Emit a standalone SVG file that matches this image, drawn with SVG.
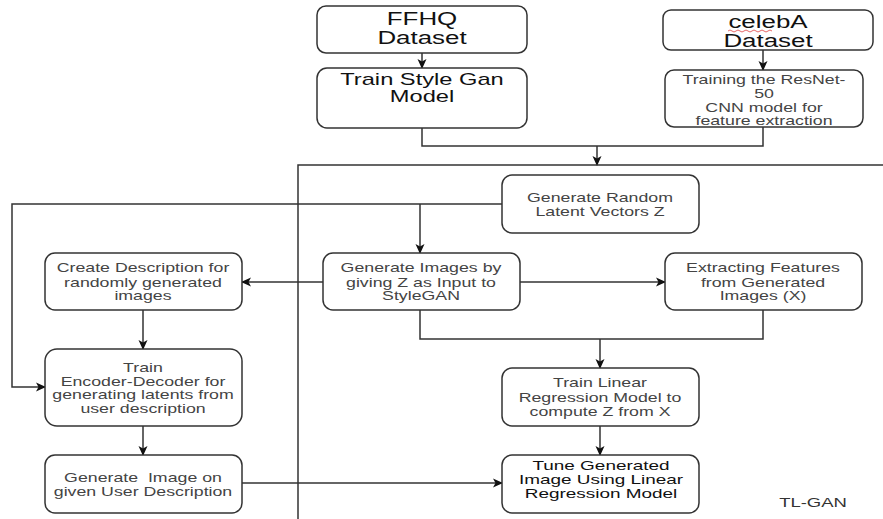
<svg xmlns="http://www.w3.org/2000/svg" width="883" height="519" viewBox="0 0 883 519">
<style>
.box{fill:#fff;stroke:#333;stroke-width:1.5}
.ln{fill:none;stroke:#333;stroke-width:1.5}
.ar{fill:none;stroke:#333;stroke-width:1.5;marker-end:url(#ah)}
text{font-family:"Liberation Sans",Arial,sans-serif;text-anchor:middle;white-space:pre}
.big{font-size:17.5px;fill:#111}
.mid{font-size:16px;fill:#111}
.sm{font-size:12px;fill:#444}
.tn{font-size:12.8px;fill:#111}
</style>
<defs>
<marker id="ah" markerWidth="10" markerHeight="10" refX="9" refY="5" orient="auto" markerUnits="userSpaceOnUse">
<path d="M0,0.5 L10,5 L0,9.5 L2.5,5 z" fill="#111"/>
</marker>
</defs>
<rect width="883" height="519" fill="#fff"/>
<g id="connectors">
<path class="ar" d="M422,53 V68"/>
<path class="ar" d="M763,50 V70"/>
<path class="ln" d="M422,128 V146 H763 V127"/>
<path class="ar" d="M597,146 V165"/>
<path class="ln" d="M298,519 V165 H883"/>
<path class="ar" d="M502,204 H12 V387 H45"/>
<path class="ar" d="M420,204 V253"/>
<path class="ar" d="M323,282 H242"/>
<path class="ar" d="M520,282 H665"/>
<path class="ln" d="M420,310 V339 H763 V310"/>
<path class="ar" d="M600,339 V368"/>
<path class="ar" d="M600,426 V455"/>
<path class="ar" d="M143,310 V349"/>
<path class="ar" d="M143,426 V455"/>
<path class="ar" d="M242,483 H502"/>
</g>
<g id="ffhq">
<rect class="box" x="317" y="6" width="210" height="47" rx="9"/>
<text class="big" transform="matrix(1.48,0,0,1,422,0)" x="0" y="25">FFHQ</text>
<text class="big" transform="matrix(1.48,0,0,1,422,0)" x="0" y="44">Dataset</text>
</g>
<g id="trainstylegan">
<rect class="box" x="317" y="68" width="210" height="60" rx="10"/>
<text class="mid" transform="matrix(1.48,0,0,1,422,0)" x="0" y="85">Train Style Gan</text>
<text class="mid" transform="matrix(1.48,0,0,1,422,0)" x="0" y="102">Model</text>
</g>
<g id="celeba">
<rect class="box" x="663" y="10" width="210" height="40" rx="8"/>
<text class="big" transform="matrix(1.48,0,0,1,768,0)" x="0" y="28">celebA</text>
<path d="M728,31 q2,-2 4,0 t4,0 t4,0 t4,0 t4,0 t4,0 t4,0 t4,0 t4,0 t4,0 t4,0" fill="none" stroke="#e04040" stroke-width="0.8"/>
<text class="big" transform="matrix(1.48,0,0,1,768,0)" x="0" y="47">Dataset</text>
</g>
<g id="resnet">
<rect class="box" x="665" y="70" width="198" height="57" rx="9"/>
<text class="sm" transform="matrix(1.48,0,0,1,764,0)" x="0" y="84.5">Training the ResNet-</text>
<text class="sm" transform="matrix(1.48,0,0,1,764,0)" x="0" y="98.5">50</text>
<text class="sm" transform="matrix(1.48,0,0,1,764,0)" x="0" y="112">CNN model for</text>
<text class="sm" transform="matrix(1.48,0,0,1,764,0)" x="0" y="125">feature extraction</text>
</g>
<g id="genrandom">
<rect class="box" x="502" y="175" width="197" height="58" rx="10"/>
<text class="sm" transform="matrix(1.48,0,0,1,600,0)" x="0" y="202">Generate Random</text>
<text class="sm" transform="matrix(1.48,0,0,1,600,0)" x="0" y="216">Latent Vectors Z</text>
</g>
<g id="genimages">
<rect class="box" x="323" y="253" width="197" height="57" rx="10"/>
<text class="sm" transform="matrix(1.48,0,0,1,421,0)" x="0" y="272">Generate Images by</text>
<text class="sm" transform="matrix(1.48,0,0,1,421,0)" x="0" y="287">giving Z as Input to</text>
<text class="sm" transform="matrix(1.48,0,0,1,421,0)" x="0" y="300">StyleGAN</text>
</g>
<g id="createdesc">
<rect class="box" x="45" y="253" width="197" height="57" rx="10"/>
<text class="sm" transform="matrix(1.48,0,0,1,143,0)" x="0" y="272">Create Description for</text>
<text class="sm" transform="matrix(1.48,0,0,1,143,0)" x="0" y="287">randomly generated</text>
<text class="sm" transform="matrix(1.48,0,0,1,143,0)" x="0" y="300">images</text>
</g>
<g id="extracting">
<rect class="box" x="665" y="253" width="197" height="57" rx="10"/>
<text class="sm" transform="matrix(1.48,0,0,1,763,0)" x="0" y="272">Extracting Features</text>
<text class="sm" transform="matrix(1.48,0,0,1,763,0)" x="0" y="287">from Generated</text>
<text class="sm" transform="matrix(1.48,0,0,1,763,0)" x="0" y="300">Images (X)</text>
</g>
<g id="trainencoder">
<rect class="box" x="45" y="349" width="197" height="77" rx="12"/>
<text class="sm" transform="matrix(1.48,0,0,1,143,0)" x="0" y="372">Train</text>
<text class="sm" transform="matrix(1.48,0,0,1,143,0)" x="0" y="386">Encoder-Decoder for</text>
<text class="sm" transform="matrix(1.48,0,0,1,143,0)" x="0" y="399">generating latents from</text>
<text class="sm" transform="matrix(1.48,0,0,1,143,0)" x="0" y="413">user description</text>
</g>
<g id="trainlinear">
<rect class="box" x="502" y="368" width="197" height="58" rx="10"/>
<text class="sm" transform="matrix(1.48,0,0,1,600,0)" x="0" y="387">Train Linear</text>
<text class="sm" transform="matrix(1.48,0,0,1,600,0)" x="0" y="402">Regression Model to</text>
<text class="sm" transform="matrix(1.48,0,0,1,600,0)" x="0" y="416">compute Z from X</text>
</g>
<g id="genimage">
<rect class="box" x="45" y="455" width="197" height="58" rx="10"/>
<text class="sm" transform="matrix(1.48,0,0,1,143,0)" x="0" y="482">Generate  Image on</text>
<text class="sm" transform="matrix(1.48,0,0,1,143,0)" x="0" y="496">given User Description</text>
</g>
<g id="tune">
<rect class="box" x="502" y="455" width="197" height="58" rx="10"/>
<text class="tn" transform="matrix(1.48,0,0,1,601,0)" x="0" y="470.5">Tune Generated</text>
<text class="tn" transform="matrix(1.48,0,0,1,601,0)" x="0" y="484.5">Image Using Linear</text>
<text class="tn" transform="matrix(1.48,0,0,1,601,0)" x="0" y="498">Regression Model</text>
</g>
<g id="tlgan">
<text class="sm" style="font-size:12.5px;fill:#333" transform="matrix(1.48,0,0,1,813,0)" x="0" y="507">TL-GAN</text>
</g>
</svg>
